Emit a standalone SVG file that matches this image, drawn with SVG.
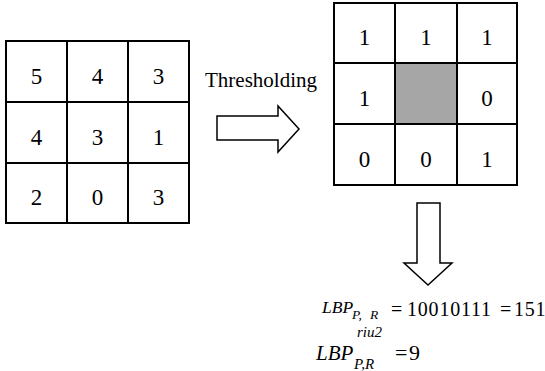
<svg xmlns="http://www.w3.org/2000/svg" width="545" height="371" viewBox="0 0 545 371">
<style>
.grid{fill:none;stroke:#000;stroke-width:2}
.cell{font-family:"Liberation Serif","Times New Roman",serif;font-size:23px;fill:#000;text-anchor:middle}
.arrow{fill:#fff;stroke:#000;stroke-width:1.5;stroke-linejoin:miter}
.t{font-family:"Liberation Serif","Times New Roman",serif;fill:#000}
.i{font-style:italic}
</style>
<rect width="545" height="371" fill="#fff"/>
<g id="input-grid">
<path class="grid" d="M6,41H189V223H6Z M67,41V223 M128,41V223 M6,102H189 M6,163H189"/>
<text class="cell" x="36.5" y="83.5">5</text>
<text class="cell" x="97.5" y="83.5">4</text>
<text class="cell" x="158.5" y="83.5">3</text>
<text class="cell" x="36.5" y="144.5">4</text>
<text class="cell" x="97.5" y="144.5">3</text>
<text class="cell" x="158.5" y="144.5">1</text>
<text class="cell" x="36.5" y="205">2</text>
<text class="cell" x="97.5" y="205">0</text>
<text class="cell" x="158.5" y="205">3</text>
</g>
<g id="binary-grid">
<rect x="395" y="63" width="62" height="61" fill="#a6a6a6"/>
<path class="grid" d="M334,3H517V185H334Z M395,3V185 M457,3V185 M334,63H517 M334,124H517"/>
<text class="cell" x="364.5" y="45">1</text>
<text class="cell" x="426" y="45">1</text>
<text class="cell" x="487" y="45">1</text>
<text class="cell" x="364.5" y="105.5">1</text>
<text class="cell" x="487" y="105.5">0</text>
<text class="cell" x="364.5" y="166.5">0</text>
<text class="cell" x="426" y="166.5">0</text>
<text class="cell" x="487" y="166.5">1</text>
</g>
<g id="connectors">
<polygon class="arrow" points="217,116 278,116 278,106 299,129 278,152 278,140 217,140"/>
<text class="t" x="205" y="86.5" font-size="21">Thresholding</text>
<polygon class="arrow" points="417,203 440,203 440,263 452,263 428,285 404,263 417,263"/>
</g>
<g id="formula">
<text class="t i" x="322" y="313" font-size="17.5">LBP</text>
<text class="t i" y="318.5" font-size="13.5"><tspan x="352">P,</tspan><tspan x="370">R</tspan></text>
<text class="t" y="315.5" font-size="20" letter-spacing="0.8"><tspan x="391">=</tspan><tspan x="407">10010111</tspan><tspan x="500">=</tspan><tspan x="514">151</tspan></text>
<text class="t i" x="316" y="360" font-size="21">LBP</text>
<text class="t i" x="357" y="336.5" font-size="15">riu2</text>
<text class="t i" x="354" y="369" font-size="15">P,R</text>
<text class="t" x="395" y="360" font-size="22">=</text>
<text class="t" x="409" y="360" font-size="22">9</text>
</g>
</svg>
